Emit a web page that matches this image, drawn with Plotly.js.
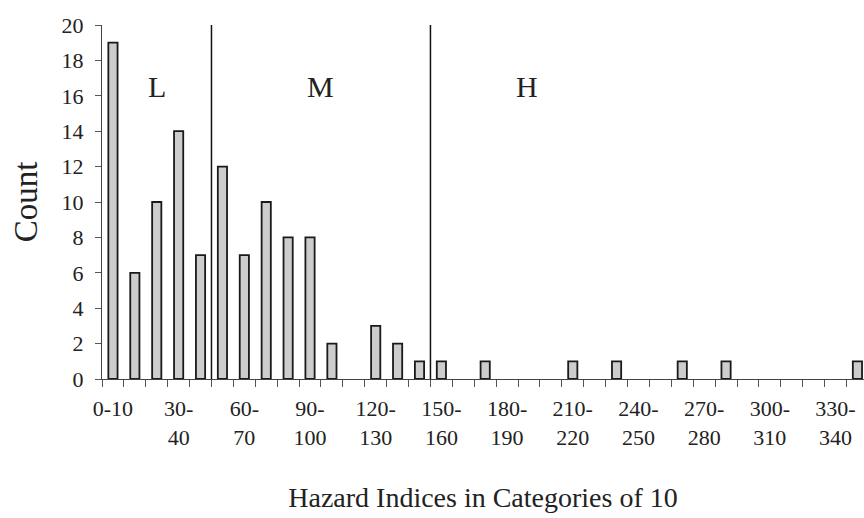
<!DOCTYPE html>
<html>
<head>
<meta charset="utf-8">
<script src="https://cdn.plot.ly/plotly-3.0.1.min.js"></script>
<style>
  html, body { margin: 0; padding: 0; background: #ffffff; }
  #chart { width: 864px; height: 518px; }
</style>
</head>
<body>
<div id="chart"></div>
<script>
// Categories of hazard index (width 10)
const categories = [
  "0-10","10-20","20-30","30-40","40-50","50-60","60-70","70-80","80-90","90-100",
  "100-110","110-120","120-130","130-140","140-150","150-160","160-170","170-180","180-190","190-200",
  "200-210","210-220","220-230","230-240","240-250","250-260","260-270","270-280","280-290","290-300",
  "300-310","310-320","320-330","330-340","340-350"
];
// Counts per category
const counts = [
  19, 6, 10, 14, 7, 12, 7, 10, 8, 8,
  2, 0, 3, 2, 1, 1, 0, 1, 0, 0,
  0, 1, 0, 1, 0, 0, 1, 0, 1, 0,
  0, 0, 0, 0, 1
];
// Tick labels shown (every third category)
const tickLabels = [
  "0-10", "30-<br>40", "60-<br>70", "90-<br>100", "120-<br>130", "150-<br>160",
  "180-<br>190", "210-<br>220", "240-<br>250", "270-<br>280", "300-<br>310", "330-<br>340"
];
// Class boundaries (hazard index) and class names
const classBreaks = [50, 150];
const classNames = ["L", "M", "H"];
const classLabelPos = [2.0, 9.5, 18.9];   // category-index units
const yTicks = [0, 2, 4, 6, 8, 10, 12, 14, 16, 18, 20];

const labelStep = 3;
const tickText = categories.map((c, i) => (i % labelStep === 0 ? tickLabels[i / labelStep] : ""));

const serif = "Liberation Serif, Times New Roman, serif";

const trace = {
  type: "bar",
  x: categories,
  y: counts,
  marker: {
    color: "#cdcdcd",
    line: { color: "#1a1a1a", width: counts.map(v => (v > 0 ? 1.8 : 0)) }
  },
  hoverinfo: "x+y"
};

const shapes = classBreaks.map(b => ({
  type: "line",
  xref: "x", yref: "paper",
  x0: b / 10 - 0.5, x1: b / 10 - 0.5,
  y0: 0, y1: 1,
  line: { color: "#111111", width: 1.5 }
}));

const annotations = classNames.map((n, i) => ({
  text: n,
  xref: "x", yref: "y",
  x: classLabelPos[i], y: 16.55,
  showarrow: false,
  xanchor: "center", yanchor: "middle",
  font: { family: serif, size: 30, color: "#222222" }
}));

const layout = {
  width: 864, height: 518,
  margin: { l: 102, r: 0, t: 25, b: 138.5 },
  paper_bgcolor: "#ffffff",
  plot_bgcolor: "#ffffff",
  showlegend: false,
  bargap: 0.58,
  xaxis: {
    type: "category",
    range: [-0.5, 34.3],
    tickmode: "array",
    tickvals: categories,
    ticktext: tickText,
    tickson: "boundaries",
    ticks: "outside",
    ticklen: 7,
    tickwidth: 1,
    tickcolor: "#555555",
    tickangle: 0,
    ticklabelstandoff: 10,
    showline: true,
    linecolor: "#444444",
    linewidth: 1,
    showgrid: false,
    zeroline: false,
    tickfont: { family: serif, size: 22, color: "#222222" },
    title: {
      text: "Hazard Indices in Categories of 10",
      font: { family: serif, size: 28, color: "#222222" },
      standoff: 38
    }
  },
  yaxis: {
    range: [0, 20],
    tickmode: "array",
    tickvals: yTicks,
    ticks: "outside",
    ticklen: 6,
    tickwidth: 1,
    tickcolor: "#555555",
    ticklabelstandoff: 7,
    showline: true,
    linecolor: "#444444",
    linewidth: 1,
    showgrid: false,
    zeroline: false,
    tickfont: { family: serif, size: 22, color: "#222222" },
    title: {
      text: "Count",
      font: { family: serif, size: 33, color: "#222222" },
      standoff: 14
    }
  },
  shapes: shapes,
  annotations: annotations
};

Plotly.newPlot("chart", [trace], layout, { displayModeBar: false, staticPlot: true });
</script>
</body>
</html>
